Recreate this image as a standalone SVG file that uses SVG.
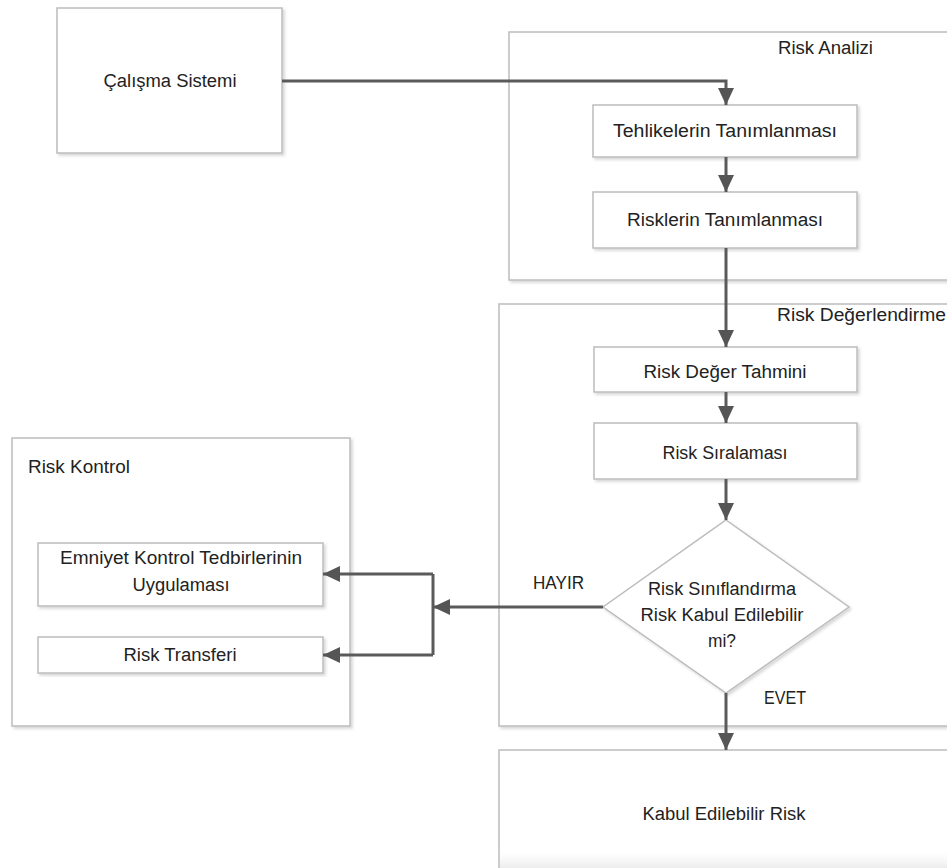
<svg xmlns="http://www.w3.org/2000/svg" width="947" height="868" viewBox="0 0 947 868">
<defs>
<filter id="sh" x="-5%" y="-5%" width="115%" height="115%">
<feDropShadow dx="2" dy="2" stdDeviation="1.5" flood-color="#000" flood-opacity="0.16"/>
</filter>
<marker id="arr" markerUnits="userSpaceOnUse" markerWidth="18" markerHeight="18" refX="17" refY="8" orient="auto">
<path d="M0,0 L17,8 L0,16 Z" fill="#555"/>
</marker>
<linearGradient id="fade" x1="0" y1="0" x2="0" y2="1">
<stop offset="0" stop-color="#f4f4f4" stop-opacity="0"/>
<stop offset="1" stop-color="#ececec"/>
</linearGradient>
</defs>
<style>
.box{fill:#fff;stroke:#bcbcbc;stroke-width:1.5;filter:url(#sh)}
.con{fill:none;stroke:#5a5a5a;stroke-width:3}
.t{font-family:"Liberation Sans",Arial,sans-serif;font-size:18px;fill:#222}
.m{text-anchor:middle}
</style>
<rect width="947" height="868" fill="#fff"/>

<g id="risk-analizi">
<rect class="box" x="509" y="32" width="460" height="248"/>
<text class="t" x="778" y="54" textLength="95" lengthAdjust="spacingAndGlyphs">Risk Analizi</text>
</g>
<g id="risk-degerlendirme">
<rect class="box" x="499" y="304" width="470" height="422"/>
<text class="t" x="777" y="321" textLength="169" lengthAdjust="spacingAndGlyphs">Risk Değerlendirme</text>
</g>
<g id="risk-kontrol">
<rect class="box" x="12" y="438" width="338" height="288"/>
<text class="t" x="28" y="473" textLength="102" lengthAdjust="spacingAndGlyphs">Risk Kontrol</text>
</g>
<g id="kabul">
<rect class="box" x="499" y="750" width="470" height="140"/>
<rect x="500" y="852" width="447" height="16" fill="url(#fade)"/>
<text class="t m" x="724" y="820" textLength="163" lengthAdjust="spacingAndGlyphs">Kabul Edilebilir Risk</text>
</g>

<g id="calisma">
<rect class="box" x="57" y="8" width="225" height="145"/>
<text class="t m" x="170" y="87" textLength="133" lengthAdjust="spacingAndGlyphs">Çalışma Sistemi</text>
</g>
<g id="tehlikeler">
<rect class="box" x="593" y="105" width="264" height="52"/>
<text class="t m" x="725" y="137" textLength="224" lengthAdjust="spacingAndGlyphs">Tehlikelerin Tanımlanması</text>
</g>
<g id="riskler">
<rect class="box" x="593" y="192" width="264" height="56"/>
<text class="t m" x="725" y="226" textLength="196" lengthAdjust="spacingAndGlyphs">Risklerin Tanımlanması</text>
</g>
<g id="deger-tahmini">
<rect class="box" x="594" y="347" width="263" height="45"/>
<text class="t m" x="725" y="378" textLength="163" lengthAdjust="spacingAndGlyphs">Risk Değer Tahmini</text>
</g>
<g id="siralama">
<rect class="box" x="594" y="423" width="263" height="56"/>
<text class="t m" x="725" y="459" textLength="125" lengthAdjust="spacingAndGlyphs">Risk Sıralaması</text>
</g>
<g id="siniflandirma">
<polygon class="box" points="726,520 849,607 726,693 603,607"/>
<text class="t m" x="722" y="595" textLength="148" lengthAdjust="spacingAndGlyphs">Risk Sınıflandırma</text>
<text class="t m" x="722" y="621" textLength="163" lengthAdjust="spacingAndGlyphs">Risk Kabul Edilebilir</text>
<text class="t m" x="722" y="647" textLength="28" lengthAdjust="spacingAndGlyphs">mi?</text>
</g>
<g id="emniyet">
<rect class="box" x="38" y="543" width="285" height="63"/>
<text class="t m" x="181" y="564" textLength="242" lengthAdjust="spacingAndGlyphs">Emniyet Kontrol Tedbirlerinin</text>
<text class="t m" x="181" y="591" textLength="97" lengthAdjust="spacingAndGlyphs">Uygulaması</text>
</g>
<g id="transfer">
<rect class="box" x="38" y="637" width="285" height="36"/>
<text class="t m" x="180" y="661" textLength="113" lengthAdjust="spacingAndGlyphs">Risk Transferi</text>
</g>

<g id="connectors">
<path class="con" d="M282,81 H726 V105" marker-end="url(#arr)"/>
<path class="con" d="M726,157 V192" marker-end="url(#arr)"/>
<path class="con" d="M726,248 V347" marker-end="url(#arr)"/>
<path class="con" d="M726,392 V423" marker-end="url(#arr)"/>
<path class="con" d="M726,479 V520" marker-end="url(#arr)"/>
<path class="con" d="M603,607 H433" marker-end="url(#arr)"/>
<path class="con" d="M433,574 V655"/>
<path class="con" d="M433,574 H323" marker-end="url(#arr)"/>
<path class="con" d="M433,655 H323" marker-end="url(#arr)"/>
<path class="con" d="M726,693 V750" marker-end="url(#arr)"/>
<text class="t" x="533" y="589" textLength="51" lengthAdjust="spacingAndGlyphs">HAYIR</text>
<text class="t" x="764" y="704" textLength="42" lengthAdjust="spacingAndGlyphs">EVET</text>
</g>
</svg>
